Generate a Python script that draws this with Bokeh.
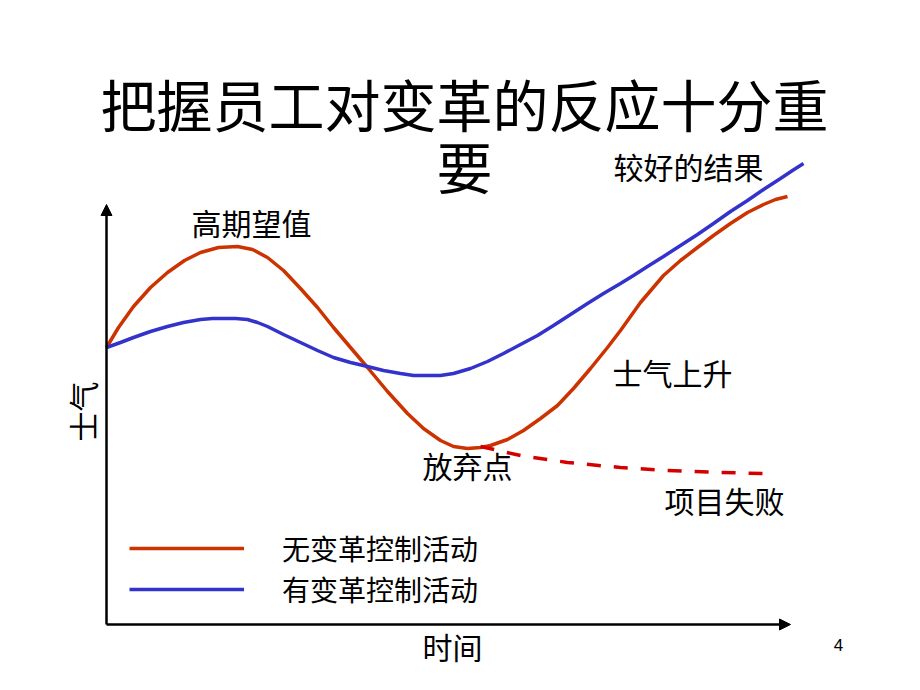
from bokeh.plotting import figure
from bokeh.models import Range1d, Label, Arrow, NormalHead, Legend, LegendItem
from bokeh.embed import file_html
from bokeh.resources import INLINE

# ---------------- data (arbitrary units: time 0..684, morale 0..420) ----------------
red_time = [0, 12, 27, 44, 61, 78, 94, 112, 131, 146, 161, 177, 194, 211, 227, 244,
            261, 281, 301, 317, 334, 347, 361, 374, 384, 401, 417, 434, 451, 467, 484,
            501, 514, 534, 557, 574, 591, 607, 624, 641, 657, 669, 681]
red_morale = [277, 297, 318, 337, 352, 364, 372, 377, 378, 375, 367, 354, 336, 317, 297,
              277, 257, 233, 211, 196, 184, 178, 176, 177, 179, 185, 194, 206, 219, 236,
              256, 277, 294, 322, 349, 364, 377, 389, 401, 412, 420, 425, 428]

blue_time = [0, 14, 27, 44, 61, 77, 94, 106, 117, 129, 141, 151, 161, 177, 194, 211,
             227, 244, 261, 277, 294, 307, 319, 334, 347, 364, 381, 397, 414, 431, 447,
             464, 481, 497, 514, 527, 541, 557, 574, 591, 607, 624, 641, 657, 674, 686, 697]
blue_morale = [277, 282, 287, 293, 298, 302, 305, 306, 306, 306, 305, 302, 298, 290, 282,
               274, 267, 262, 258, 254, 251, 249, 249, 249, 251, 256, 263, 271, 280, 289,
               299, 310, 321, 331, 341, 349, 358, 368, 379, 390, 401, 413, 424, 435, 446,
               454, 461]

fail_time = [374, 414, 461, 514, 561, 614, 656]
fail_morale = [178, 169, 162, 157, 154, 152, 151]

axis_time_max = 684
axis_morale_max = 420

title = "把握员工对变革的反应十分重要"
series_names = ["无变革控制活动", "有变革控制活动"]
x_label = "时间"
y_label = "士气"
notes = ["高期望值", "较好的结果", "士气上升", "放弃点", "项目失败"]
page_no = "4"

# ---------------- layout (page pixels -> data units) ----------------
W, H = 904, 674
AX_X0 = 106   # page x of time 0
AX_Y0 = 624   # page y of morale 0


def X(px):
    return px - AX_X0


def Y(py):
    return AX_Y0 - py


FONT = "Noto Sans CJK SC"

p = figure(width=W, height=H, output_backend="svg", toolbar_location=None,
           x_range=Range1d(X(0), X(W)), y_range=Range1d(Y(H), Y(0)),
           x_axis_location=None, y_axis_location=None, min_border=0)
p.grid.visible = False
p.outline_line_color = None
p.background_fill_color = "white"
p.border_fill_color = "white"

RED = "#CC3300"
BLUE = "#3333CC"

# axes with arrow heads
p.add_layout(Arrow(end=NormalHead(size=11, fill_color="black", line_color="black"),
                   x_start=0, y_start=0, x_end=0, y_end=axis_morale_max,
                   line_color="black", line_width=2.5))
p.add_layout(Arrow(end=NormalHead(size=11, fill_color="black", line_color="black"),
                   x_start=0, y_start=0, x_end=axis_time_max, y_end=0,
                   line_color="black", line_width=2.5))

r_red = p.line(red_time, red_morale, line_color=RED, line_width=3.5)
r_blue = p.line(blue_time, blue_morale, line_color=BLUE, line_width=3.5)
p.line(fail_time, fail_morale, line_color="#D40000", line_width=3.5, line_dash="14 13")


def add_legend(name, renderer, loc):
    p.add_layout(Legend(items=[LegendItem(label=name, renderers=[renderer])],
                        location=loc, glyph_width=115, glyph_height=36,
                        label_height=36, label_standoff=38, padding=0, margin=0,
                        border_line_color=None, background_fill_alpha=0,
                        label_text_font=FONT, label_text_font_size="28px",
                        label_text_color="black"))


add_legend(series_names[0], r_red, (129, 106))
add_legend(series_names[1], r_blue, (129, 65))


def lab(text, cx, cy, size, angle=0, font=FONT):
    p.add_layout(Label(x=X(cx), y=Y(cy), text=text, text_font=font,
                       text_font_size=size, text_align="center",
                       text_baseline="middle", text_color="black",
                       angle=angle, angle_units="deg"))


lab(title[:-1], 464, 102, "56px")
lab(title[-1:], 464, 164, "56px")
lab(notes[0], 251, 221, "30px")
lab(notes[1], 688, 165, "30px")
lab(notes[2], 672, 371, "30px")
lab(notes[3], 467, 464, "30px")
lab(notes[4], 724, 499, "30px")
lab(x_label, 452, 645, "30px")
lab(y_label, 81, 411, "30px", angle=90)
lab(page_no, 838, 644, "17px", font="Liberation Sans")

open("out.html", "w").write(file_html(p, INLINE))
